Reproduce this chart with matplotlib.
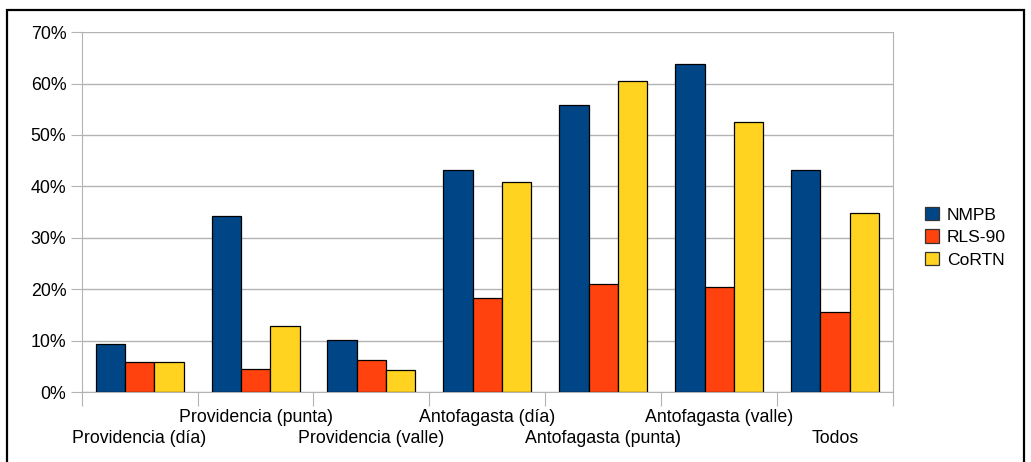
import numpy as np
import matplotlib.pyplot as plt
from matplotlib.patches import Rectangle

plt.rcParams['font.family'] = ['Liberation Sans', 'DejaVu Sans']

categories = ['Providencia (día)', 'Providencia (punta)', 'Providencia (valle)',
              'Antofagasta (día)', 'Antofagasta (punta)', 'Antofagasta (valle)',
              'Todos']
nmpb = [9.4, 34.2, 10.2, 43.2, 55.9, 63.8, 43.2]
rls90 = [5.8, 4.5, 6.2, 18.2, 21.1, 20.5, 15.5]
cortn = [5.8, 12.8, 4.2, 40.8, 60.5, 52.6, 34.8]
series = [('NMPB', nmpb, '#004586'),
          ('RLS-90', rls90, '#ff420e'),
          ('CoRTN', cortn, '#ffd320')]

fig = plt.figure(figsize=(10.31, 4.62), dpi=100)
ax = fig.add_axes([0.0792, 0.1515, 0.787, 0.779])

x = np.arange(len(categories))
w = 0.253
for i, (name, vals, col) in enumerate(series):
    ax.bar(x + (i - 1) * w, vals, w, color=col, edgecolor='black',
           linewidth=0.9, label=name, zorder=3)

ax.set_xlim(-0.5, len(categories) - 0.5)
ax.set_ylim(0, 70)
ax.set_yticks(np.arange(0, 71, 10))
ax.set_yticklabels(['%d%%' % v for v in range(0, 71, 10)], fontsize=12.8)
ax.yaxis.grid(True, color='#b3b3b3', linewidth=1, zorder=0)
ax.tick_params(axis='y', length=8, color='#b3b3b3', pad=3)

# category boundaries carry the tick marks, labels placed staggered
ax.set_xticks(np.arange(-0.5, len(categories), 1.0))
ax.set_xticklabels([])
ax.tick_params(axis='x', length=10, color='#b3b3b3')
for i, lab in enumerate(categories):
    yy = -0.128 if i % 2 == 0 else -0.072
    ax.text(i, yy, lab, transform=ax.get_xaxis_transform(), ha='center',
            va='center', fontsize=12.8)

for s in ax.spines.values():
    s.set_color('#b3b3b3')
ax.spines['top'].set_visible(False)

leg = ax.legend(loc='center left', bbox_to_anchor=(1.02, 0.43), frameon=False,
                fontsize=12.6, handlelength=0.8, handleheight=0.8,
                labelspacing=0.38, handletextpad=0.45)
for h in leg.legend_handles:
    h.set_edgecolor('#333333')

fig.patches.append(Rectangle((7 / 1031, -0.05), 1017 / 1031, 1.05 - 10 / 462,
                             transform=fig.transFigure, fill=False,
                             edgecolor='black', linewidth=1.6))

fig.savefig('out.png', dpi=100)
